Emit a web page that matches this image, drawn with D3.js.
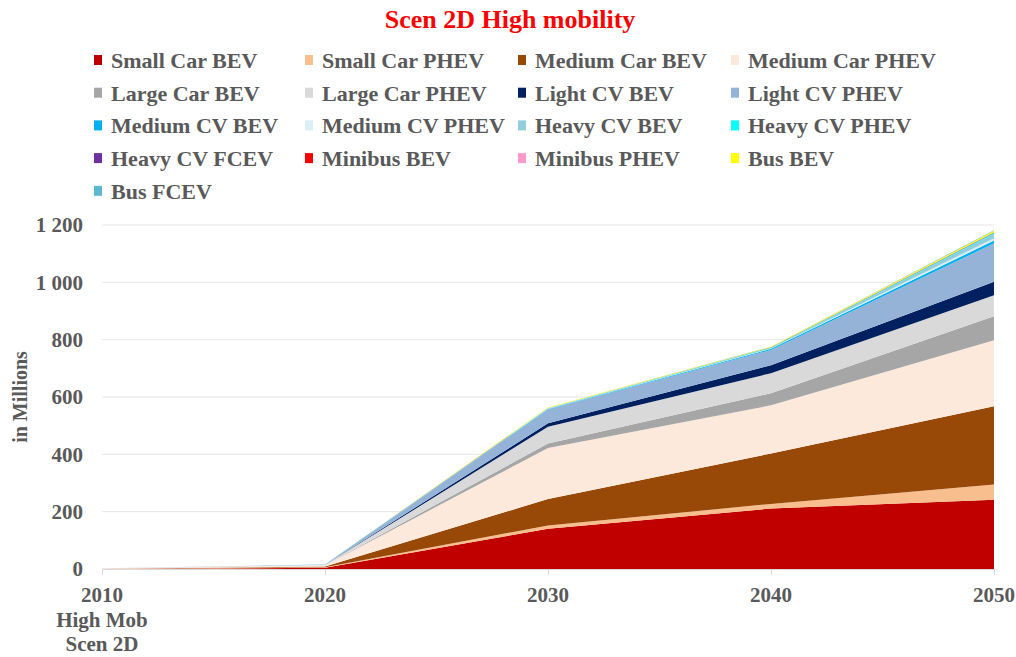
<!DOCTYPE html>
<html>
<head>
<meta charset="utf-8">
<script src="https://cdn.jsdelivr.net/npm/d3@7"></script>
<style>
  body { margin: 0; background: #fff; }
  text { font-family: "Liberation Serif", "Times New Roman", serif; font-weight: bold; }
</style>
</head>
<body>
<svg id="canvas" width="1016" height="657"></svg>
<script>
// years on the x axis
let years = [2010, 2020, 2030, 2040, 2050];
let yTicks = [0, 200, 400, 600, 800, 1000, 1200];

// stock in millions
let smallCarBEV   = [0.3, 4, 140, 211, 242];
let smallCarPHEV  = [0.3, 2, 12, 16, 53];
let mediumCarBEV  = [0.3, 3, 92, 176, 273];
let mediumCarPHEV = [1, 4, 178, 168, 230];
let largeCarBEV   = [0.1, 0.5, 16, 42, 84];
let largeCarPHEV  = [0.2, 1, 58, 70, 73];
let lightCVBEV    = [0, 0.2, 12, 28, 47];
let lightCVPHEV   = [0, 0.5, 48, 53, 134];
let mediumCVBEV   = [0, 0.1, 2, 4, 10];
let mediumCVPHEV  = [0, 0.1, 1, 1.5, 8];
let heavyCVBEV    = [0, 0, 1, 1.5, 15];
let heavyCVPHEV   = [0, 0, 0.5, 1.5, 3];
let heavyCVFCEV   = [0, 0, 0.2, 0.3, 1];
let minibusBEV    = [0, 0, 0.3, 0.5, 1];
let minibusPHEV   = [0, 0, 0.2, 0.3, 1];
let busBEV        = [0, 0, 2, 1.5, 5];
let busFCEV       = [0, 0, 0.3, 0.5, 2];

let seriesNames = [
  'Small Car BEV', 'Small Car PHEV', 'Medium Car BEV', 'Medium Car PHEV',
  'Large Car BEV', 'Large Car PHEV', 'Light CV BEV', 'Light CV PHEV',
  'Medium CV BEV', 'Medium CV PHEV', 'Heavy CV BEV', 'Heavy CV PHEV',
  'Heavy CV FCEV', 'Minibus BEV', 'Minibus PHEV', 'Bus BEV', 'Bus FCEV'
];
let seriesValues = [
  smallCarBEV, smallCarPHEV, mediumCarBEV, mediumCarPHEV,
  largeCarBEV, largeCarPHEV, lightCVBEV, lightCVPHEV,
  mediumCVBEV, mediumCVPHEV, heavyCVBEV, heavyCVPHEV,
  heavyCVFCEV, minibusBEV, minibusPHEV, busBEV, busFCEV
];
let seriesColors = [
  '#C00000', '#F8BE8E', '#984807', '#FDE9DC',
  '#A6A6A6', '#D9D9D9', '#002060', '#95B3D7',
  '#00B0F0', '#DAEEF3', '#92CDDC', '#00FFFF',
  '#7030A0', '#FF0000', '#FF99CC', '#FFFF00', '#5BB8CF'
];

let margin = {"left": 102, "right": 22, "top": 225, "bottom": 88};
let width = 1016, height = 657;
let textColor = '#595959';

let canvas = d3.select("#canvas");

let drawChart = () => {
    let table = years.map((year, i) => {
        let row = {year: year};
        seriesNames.forEach((name, s) => row[name] = seriesValues[s][i]);
        return row;
    });

    let stacked = d3.stack().keys(seriesNames)(table);

    let xScale = d3.scaleLinear()
                   .domain([2010, 2050])
                   .range([margin.left, width - margin.right]);
    let yScale = d3.scaleLinear()
                   .domain([0, 1200])
                   .range([height - margin.bottom, margin.top]);

    // gridlines
    canvas.append('g')
          .selectAll('line')
          .data(yTicks.slice(1))
          .enter()
          .append('line')
          .attr('x1', margin.left)
          .attr('x2', width - margin.right)
          .attr('y1', (d) => yScale(d))
          .attr('y2', (d) => yScale(d))
          .attr('stroke', '#E6E6E6')
          .attr('stroke-width', 1);

    let area = d3.area()
                 .x((d) => xScale(d.data.year))
                 .y0((d) => yScale(d[0]))
                 .y1((d) => yScale(d[1]));

    canvas.append('g')
          .selectAll('path')
          .data(stacked)
          .enter()
          .append('path')
          .attr('d', area)
          .attr('fill', (d, i) => seriesColors[i]);

    // x axis
    let xAxis = d3.axisBottom(xScale)
                  .tickValues(years)
                  .tickSize(6)
                  .tickFormat('');
    let xg = canvas.append('g')
                   .attr('transform', 'translate(0,' + yScale(0) + ')')
                   .call(xAxis);
    xg.select('.domain').attr('stroke', '#D9D9D9');
    xg.selectAll('.tick line').attr('stroke', '#D9D9D9');

    let xLabels = canvas.append('g');
    years.forEach((year) => {
        xLabels.append('text')
               .attr('x', xScale(year))
               .attr('y', 602)
               .attr('text-anchor', 'middle')
               .attr('font-size', 21)
               .attr('fill', textColor)
               .text(year);
    });
    xLabels.append('text')
           .attr('x', xScale(2010))
           .attr('y', 627)
           .attr('text-anchor', 'middle')
           .attr('font-size', 21)
           .attr('fill', textColor)
           .text('High Mob');
    xLabels.append('text')
           .attr('x', xScale(2010))
           .attr('y', 651)
           .attr('text-anchor', 'middle')
           .attr('font-size', 21)
           .attr('fill', textColor)
           .text('Scen 2D');

    // y labels
    canvas.append('g')
          .selectAll('text')
          .data(yTicks)
          .enter()
          .append('text')
          .attr('x', 83)
          .attr('y', (d) => yScale(d))
          .attr('dy', '0.35em')
          .attr('text-anchor', 'end')
          .attr('font-size', 21)
          .attr('fill', textColor)
          .text((d) => d3.format(',')(d).replace(',', ' '));

    canvas.append('text')
          .attr('transform', 'translate(27,' + 397 + ') rotate(-90)')
          .attr('text-anchor', 'middle')
          .attr('font-size', 20)
          .attr('fill', textColor)
          .text('in Millions');

    // title
    canvas.append('text')
          .attr('x', 510)
          .attr('y', 28)
          .attr('text-anchor', 'middle')
          .attr('font-size', 26)
          .attr('fill', '#FF0000')
          .text('Scen 2D High mobility');

    // legend, 4 columns
    let legendCols = [94, 305, 518, 731];
    let legendRowY = 60, legendRowStep = 32.7;
    let legend = canvas.append('g')
                       .selectAll('g')
                       .data(seriesNames)
                       .enter()
                       .append('g')
                       .attr('transform', (d, i) => 'translate(' + legendCols[i % 4] + ',' + (legendRowY + Math.floor(i / 4) * legendRowStep) + ')');
    legend.append('rect')
          .attr('x', 0)
          .attr('y', -5)
          .attr('width', 8)
          .attr('height', 10)
          .attr('fill', (d, i) => seriesColors[i]);
    legend.append('text')
          .attr('x', 17)
          .attr('y', 8)
          .attr('font-size', 22)
          .attr('fill', textColor)
          .text((d) => d);
}

drawChart();
</script>
</body>
</html>
